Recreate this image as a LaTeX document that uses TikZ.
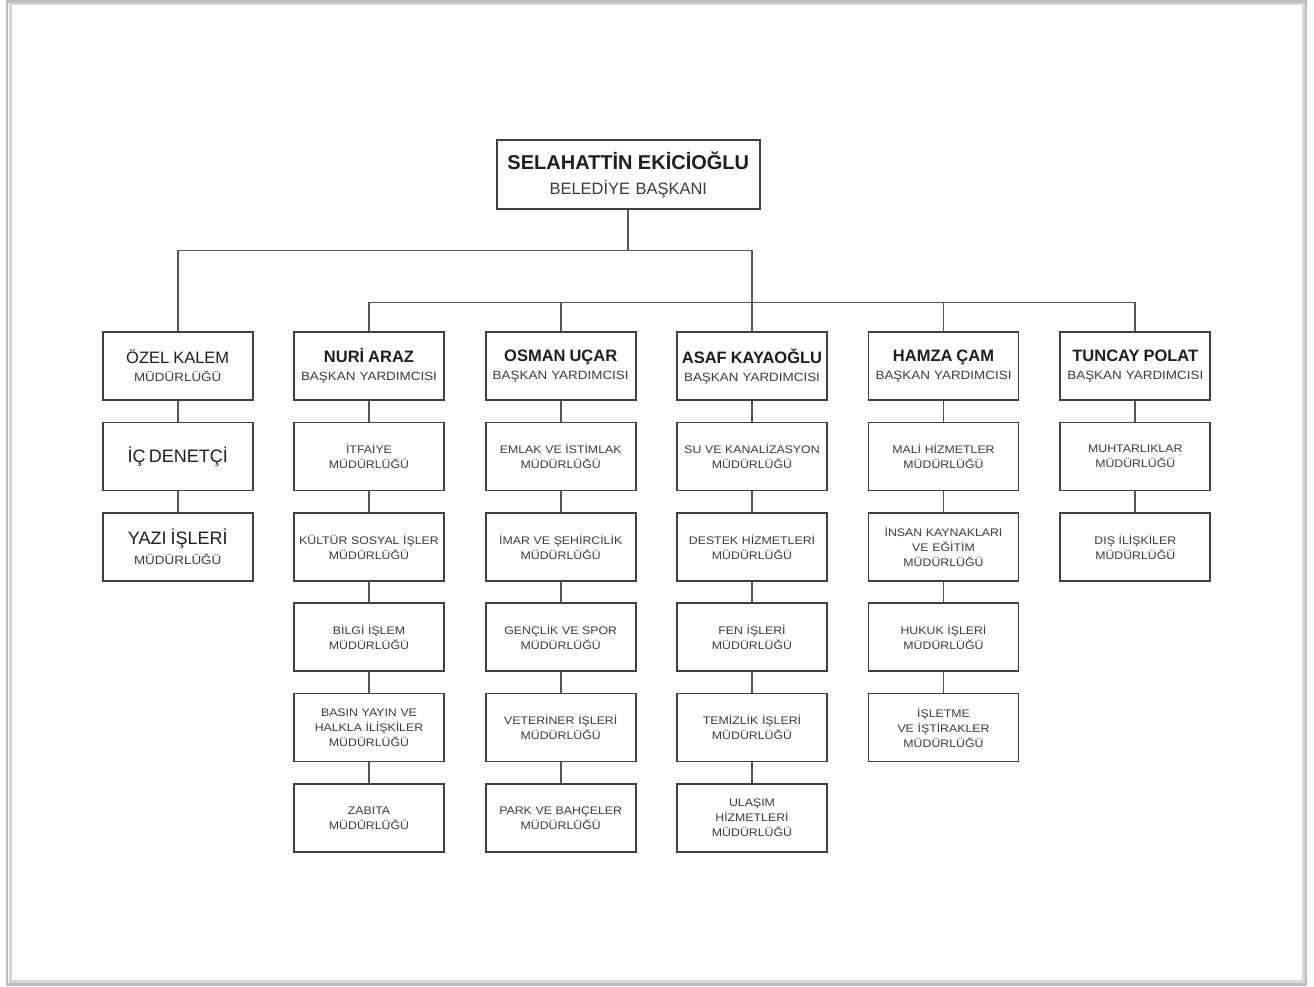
\documentclass[tikz,border=0pt]{standalone}
\usepackage{fontspec}
\setmainfont{Liberation Sans}
\newfontfamily\widefont[FakeStretch=1.12]{Liberation Sans}
\definecolor{boxc}{HTML}{404040}
\definecolor{linec}{HTML}{555555}
\definecolor{txtd}{HTML}{1E1E1E}
\definecolor{txtl}{HTML}{3C3C3C}
\definecolor{framec}{HTML}{BDBDBD}
\tikzset{
  box/.style={draw=boxc, line width=1.7pt, fill=white, minimum width=150pt, minimum height=68pt,
    inner sep=0pt, text width=148pt, align=center},
  topbox/.style={box, minimum width=263pt, minimum height=69pt, text width=260pt,
    font=\fontsize{16}{25}\selectfont},
  dept/.style={box, text=txtl, font=\widefont\fontsize{11}{15}\selectfont},
  vp/.style={box, font=\fontsize{12}{18}\selectfont},
  conn/.style={draw=linec, line width=1.7pt},
}
\newcommand{\bigname}[1]{{\fontsize{16.5}{18}\selectfont\bfseries\color{txtd}#1}}
\newcommand{\subt}[1]{{\widefont\fontsize{12}{18}\selectfont\color{txtl}#1}}
\begin{document}
\begin{tikzpicture}[x=1pt,y=-1pt]
\useasboundingbox (0,0) rectangle (1314,987);
\fill[white] (0,0) rectangle (1314,987);
% page frame
\draw[framec!60, line width=3pt] (10,4) rectangle (1303,981);
\draw[framec, line width=2.2pt] (7,1.5) rectangle (1306,984.5);

% top
\node[topbox] (top) at (628.3,174.5) {{\fontsize{20}{25}\selectfont\bfseries\color{txtd}SELAHATTİN EKİCİOĞLU}\\{\fontsize{16.5}{25}\selectfont\color{txtl}BELEDİYE BAŞKANI}};

% column 0
\node[vp] (ozel) at (177.7,366) {{\fontsize{16.5}{18}\selectfont\color{txtd}ÖZEL KALEM}\\\subt{MÜDÜRLÜĞÜ}};
\node[box] (icden) at (177.7,456.5) {{\fontsize{18}{20}\selectfont\color{txtd}İÇ DENETÇİ}};
\node[box, font=\fontsize{12}{20}\selectfont] (yazi) at (177.7,547) {{\fontsize{18}{20}\selectfont\color{txtd}YAZI İŞLERİ}\\\subt{MÜDÜRLÜĞÜ}};

% column 1
\node[vp] (nuri) at (369,366) {\bigname{NURİ ARAZ}\\\subt{BAŞKAN YARDIMCISI}};
\node[dept] (itf) at (369,456.5) {İTFAİYE\\MÜDÜRLÜĞÜ};
\node[dept] (kul) at (369,547) {KÜLTÜR SOSYAL İŞLER\\MÜDÜRLÜĞÜ};
\node[dept] (bil) at (369,637) {BİLGİ İŞLEM\\MÜDÜRLÜĞÜ};
\node[dept] (bas) at (369,727.5) {BASIN YAYIN VE\\HALKLA İLİŞKİLER\\MÜDÜRLÜĞÜ};
\node[dept] (zab) at (369,818) {ZABITA\\MÜDÜRLÜĞÜ};

% column 2
\node[vp] (osman) at (560.7,366) {\bigname{OSMAN UÇAR}\\\subt{BAŞKAN YARDIMCISI}};
\node[dept] (eml) at (560.7,456.5) {EMLAK VE İSTİMLAK\\MÜDÜRLÜĞÜ};
\node[dept] (ima) at (560.7,547) {İMAR VE ŞEHİRCİLİK\\MÜDÜRLÜĞÜ};
\node[dept] (gen) at (560.7,637) {GENÇLİK VE SPOR\\MÜDÜRLÜĞÜ};
\node[dept] (vet) at (560.7,727.5) {VETERİNER İŞLERİ\\MÜDÜRLÜĞÜ};
\node[dept] (par) at (560.7,818) {PARK VE BAHÇELER\\MÜDÜRLÜĞÜ};

% column 3
\node[vp] (asaf) at (752,366) {\bigname{ASAF KAYAOĞLU}\\\subt{BAŞKAN YARDIMCISI}};
\node[dept] (suk) at (752,456.5) {SU VE KANALİZASYON\\MÜDÜRLÜĞÜ};
\node[dept] (des) at (752,547) {DESTEK HİZMETLERİ\\MÜDÜRLÜĞÜ};
\node[dept] (fen) at (752,637) {FEN İŞLERİ\\MÜDÜRLÜĞÜ};
\node[dept] (tem) at (752,727.5) {TEMİZLİK İŞLERİ\\MÜDÜRLÜĞÜ};
\node[dept] (ula) at (752,818) {ULAŞIM\\HİZMETLERİ\\MÜDÜRLÜĞÜ};

% column 4
\node[vp] (hamza) at (943.5,366) {\bigname{HAMZA ÇAM}\\\subt{BAŞKAN YARDIMCISI}};
\node[dept] (mal) at (943.5,456.5) {MALİ HİZMETLER\\MÜDÜRLÜĞÜ};
\node[dept] (ins) at (943.5,547) {İNSAN KAYNAKLARI\\VE EĞİTİM\\MÜDÜRLÜĞÜ};
\node[dept] (huk) at (943.5,637) {HUKUK İŞLERİ\\MÜDÜRLÜĞÜ};
\node[dept] (isl) at (943.5,727.5) {İŞLETME\\VE İŞTİRAKLER\\MÜDÜRLÜĞÜ};

% column 5
\node[vp] (tuncay) at (1135.3,366) {\bigname{TUNCAY POLAT}\\\subt{BAŞKAN YARDIMCISI}};
\node[dept] (muh) at (1135.3,456.5) {MUHTARLIKLAR\\MÜDÜRLÜĞÜ};
\node[dept] (dis) at (1135.3,547) {DIŞ İLİŞKİLER\\MÜDÜRLÜĞÜ};

% connectors
\coordinate (bar1) at (628.3,250.5);
\coordinate (bar2) at (752,302.5);
\draw[conn] (top.south) -- (bar1);
\draw[conn] (ozel.north) |- (bar1) -| (asaf.north);
\draw[conn] (nuri.north) |- (bar2) -| (tuncay.north);
\draw[conn] (osman.north) |- (bar2);
\draw[conn] (hamza.north) |- (bar2);
\foreach \a/\b in {ozel/icden, icden/yazi,
  nuri/itf, itf/kul, kul/bil, bil/bas, bas/zab,
  osman/eml, eml/ima, ima/gen, gen/vet, vet/par,
  asaf/suk, suk/des, des/fen, fen/tem, tem/ula,
  hamza/mal, mal/ins, ins/huk, huk/isl,
  tuncay/muh, muh/dis}
  \draw[conn] (\a.south) -- (\b.north);
\end{tikzpicture}
\end{document}
